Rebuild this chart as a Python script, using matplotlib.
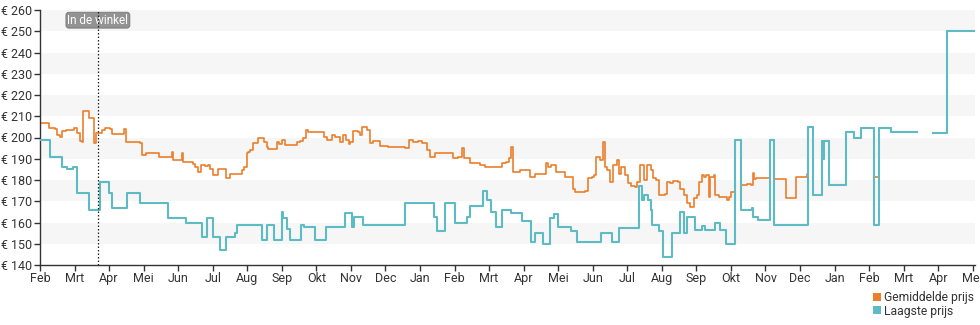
import matplotlib
matplotlib.use("Agg")
import matplotlib.pyplot as plt
from matplotlib.patches import Patch
import numpy as np
import pandas as pd

plt.rcParams["font.family"] = ["Roboto", "DejaVu Sans"]

nan = np.nan
START = pd.Timestamp("2022-02-01")

# Laagste prijs: day since 1 Feb 2022 when the price changed, and the new price (EUR)
lowest_day = [0, 9, 19, 24, 29, 33, 43, 53, 61, 63, 77, 88, 113, 129, 143, 147, 152, 159,
              164, 172, 174, 196, 200, 206, 213, 214, 218, 220, 230, 233, 242, 252, 269,
              275, 277, 285, 322, 347, 350, 357, 366, 376, 379, 390, 394, 397, 402, 407,
              415, 425, 433, 436, 443, 449, 453, 456, 468, 473, 494, 504, 510, 528, 530,
              532, 536, 538, 539, 545, 549, 557, 564, 567, 570, 577, 583, 586, 595, 599,
              604, 612, 618, 627, 628, 633, 643, 647, 677, 681, 689, 690, 691, 695, 710,
              717, 723, 735, 739, 750, 773, 787, 799, 824]
lowest_price = [199, 191, 186, 185, 186, 174, 166, 179, 174, 167, 174, 169, 162, 160, 153,
                162, 153, 147, 153, 155, 159, 152, 159, 152, 165, 162, 157, 152, 159, 158,
                152, 158, 164.5, 158, 162.5, 159, 169, 162.5, 156, 169, 160, 162.5, 168,
                175, 170.5, 165, 158, 166, 164.5, 160.5, 151, 155, 150, 162, 164, 158, 156,
                151, 155, 151, 157.3, 177, 170.5, 173, 170.5, 166, 159, 156, 144, 155, 165,
                155, 162.4, 156.5, 158.5, 156.5, 160, 156.5, 150, 199, 166, 167, 162.5, 161,
                199, 159, 205, 173, 198.5, 190, 198.5, 177.6, 202.7, 199.6, 204.3, 158.8,
                204.3, 202.7, nan, 202.3, 250, 250]

# Gemiddelde prijs: day since 1 Feb 2022 and average price (EUR)
avg_day = [0, 8, 13, 15, 18, 19, 23, 30, 33, 35, 37, 38, 42, 43, 48, 49, 53, 55, 57, 62,
           63, 74, 76, 88, 90, 93, 103, 105, 116, 117, 125, 126, 135, 137, 139, 142, 145,
           148, 150, 152, 157, 164, 167, 178, 180, 182, 183, 185, 188, 192, 197, 200, 201,
           209, 211, 213, 216, 226, 229, 232, 234, 236, 245, 250, 253, 257, 260, 264, 267,
           270, 272, 273, 276, 280, 282, 284, 288, 291, 293, 300, 307, 322, 325, 329, 333,
           337, 341, 344, 348, 364, 368, 372, 374, 379, 388, 392, 407, 411, 413, 415, 417,
           423, 432, 436, 446, 448, 450, 455, 463, 470, 471, 480, 483, 486, 488, 490, 493,
           496, 498, 500, 502, 505, 508, 510, 512, 515, 518, 521, 524, 526, 529, 532, 535,
           538, 540, 543, 545, 551, 552, 555, 558, 562, 564, 567, 570, 573, 576, 579, 581,
           583, 585, 587, 589, 590, 594, 595, 598, 605, 607, 609, 612, 618, 623, 626, 628,
           629, 631, 643, 647, 657, 666, 676, 677, 681, 689, 690, 691, 695, 710, 717, 723,
           735, 739, 750, 773, 787, 799, 824]
avg_price = [207, 204.3, 204, 201, 200.4, 203, 203.5, 204.5, 202, 198.5, 198, 212.6, 212.3,
             209, 197.5, 202, 202.3, 203.5, 204.3, 204, 201.5, 203.8, 198, 197.6, 191.8,
             192.8, 192.5, 190.6, 193, 189.4, 192.5, 188.6, 187.5, 186, 184, 187, 186.5,
             187, 185, 182.4, 185.4, 180.8, 183, 184.9, 186, 192.5, 193, 194, 197.3, 199.6,
             198, 195.7, 194.6, 198, 197, 198.8, 196.5, 198, 198.5, 200, 203.5, 202.7,
             202.5, 200.4, 199, 201.2, 200.2, 198, 201.2, 199, 196.8, 198, 203, 202.5, 201,
             204.8, 203.5, 197.3, 198.4, 196.2, 195.7, 194.9, 198.8, 198, 198.4, 197.2,
             194.1, 191, 192.6, 190.2, 191, 194.9, 190.2, 187.8, 187, 186.3, 187.8, 188.6,
             190.2, 195.5, 183.9, 184.9, 181.6, 183, 187.8, 186, 187, 184, 181.6, 176,
             174.4, 175, 180.8, 181.6, 182.4, 191, 189.5, 197.7, 186.3, 184.9, 179.2, 187,
             189.4, 183, 186.3, 182.4, 178.5, 177, 176.5, 179, 187, 180, 187, 184.9, 180.8,
             180, 173, 173.5, 179.2, 178.5, 179.7, 179.2, 176, 173, 169, 167.5, 171.5, 173,
             179.2, 182.4, 181.6, 182.4, 172.2, 181.6, 182.4, 173, 172.2, 170.6, 172.2,
             174.5, 199, 177.6, 178, 177.6, 183.1, 180.5, 180.8, 199, 180.5, 171.7, 181.6,
             182.7, 205, 173, 198.5, 190, 198.5, 177.6, 202.7, 199.6, 204.3, 181.6, 204.3,
             202.7, nan, 202.3, 250, 250]

month_labels = ["Feb", "Mrt", "Apr", "Mei", "Jun", "Jul", "Aug", "Sep", "Okt", "Nov",
                "Dec", "Jan"] * 2 + ["Feb", "Mrt", "Apr", "Mei"]
euro_ticks = list(range(140, 261, 10))
store_day = 51
store_label = "In de winkel"
series_names = ["Gemiddelde prijs", "Laagste prijs"]

ORANGE = "#EC7F2C"
TEAL = "#5DBCC3"
INK = "#333333"


def to_dates(days):
    return START + pd.to_timedelta(np.asarray(days, dtype=float), unit="D")


fig = plt.figure(figsize=(9.8, 3.25), dpi=100)
ax = fig.add_axes([40 / 980, 1 - 265 / 325, 935 / 980, 255 / 325])

# alternating horizontal bands
for lo in range(150, 260, 20):
    ax.axhspan(lo, lo + 10, color="#f6f6f6", lw=0, zorder=0)

ax.plot(to_dates(avg_day), avg_price, drawstyle="steps-post", color=ORANGE, lw=1.2,
        zorder=2)
ax.plot(to_dates(lowest_day), lowest_price, drawstyle="steps-post", color=TEAL, lw=1.5,
        zorder=3)

# release marker
store_date = to_dates([store_day])[0]
ax.axvline(store_date, color="#222222", lw=0.9, ls=(0, (1.2, 1.6)), zorder=5)
ax.text(store_date, 255.2, store_label, ha="center", va="center", color="white",
        fontsize=8.5, zorder=4,
        bbox=dict(boxstyle="round,pad=0.12,rounding_size=0.25", fc="#8e8e8e",
                  ec="#7a7a7a", lw=0.7, alpha=0.95))

ax.set_ylim(140, 260)
ax.set_xlim(START, to_dates([823.8])[0])

ax.set_yticks(euro_ticks)
ax.set_yticklabels([f"€ {v}" for v in euro_ticks])
month_len = 365.25 / 12
ax.set_xticks(to_dates([k * month_len for k in range(len(month_labels))]))
ax.set_xticklabels(month_labels)

for side in ("top", "right"):
    ax.spines[side].set_visible(False)
for side in ("left", "bottom"):
    ax.spines[side].set_color(INK)
    ax.spines[side].set_linewidth(1.0)
ax.tick_params(axis="both", direction="out", length=4, width=1.0, color=INK,
               labelcolor=INK, labelsize=9)
ax.tick_params(axis="y", pad=1.5)
ax.tick_params(axis="x", pad=1.0)

handles = [Patch(facecolor=ORANGE, edgecolor="none"),
           Patch(facecolor=TEAL, edgecolor="none")]
fig.legend(handles, series_names, loc="upper left",
           bbox_to_anchor=(873 / 980, 1 - 291 / 325), frameon=False, fontsize=8.7,
           handlelength=0.65, handleheight=0.65, handletextpad=0.3, labelspacing=0.05,
           borderpad=0, borderaxespad=0, labelcolor=INK)

fig.savefig("out.png", dpi=100)
